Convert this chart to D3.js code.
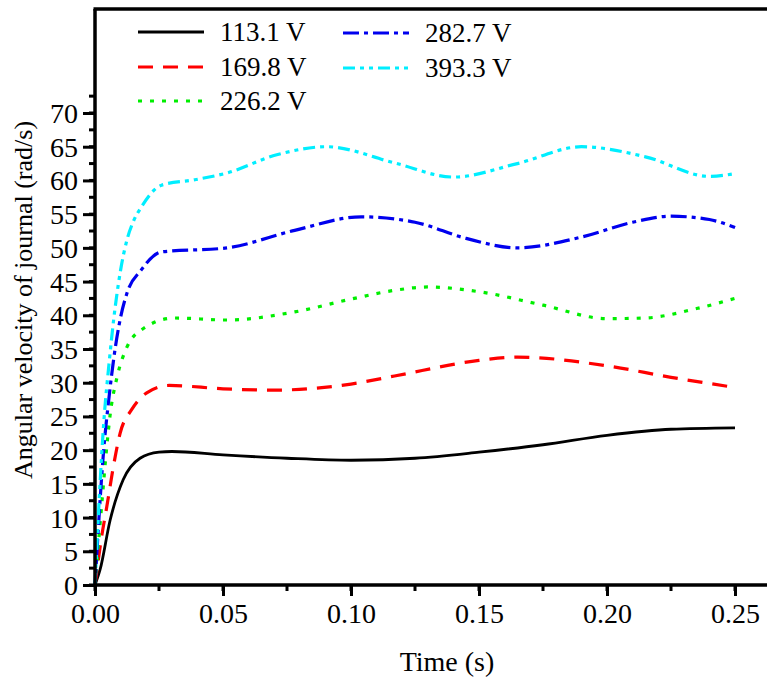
<!DOCTYPE html>
<html>
<head>
<meta charset="utf-8">
<script src="https://cdn.jsdelivr.net/npm/d3@7"></script>
<style>
  body { margin: 0; background: #fff; }
  svg text { font-family: "Liberation Serif", "Times New Roman", Times, serif; fill: #000; }
</style>
</head>
<body>
<div id="chart"></div>
<script>
var svgWidth = 767;
var svgHeight = 679;

// series names and colours
var seriesNames = ["113.1 V", "169.8 V", "226.2 V", "282.7 V", "393.3 V"];
var seriesColors = ["#000000", "#ff0000", "#00ee00", "#0000ee", "#00eeff"];
var seriesDash = [null, "15,10", "4,8", "16,5,4,5", "12,5,4,5,4,5"];

// time (s) / angular velocity (rad/s)
var t113 = [0, 0.002, 0.0059, 0.011, 0.0176, 0.025, 0.03, 0.05, 0.075, 0.1, 0.125, 0.15, 0.175, 0.2, 0.225, 0.25];
var v113 = [0, 2.3, 9.6, 15.6, 18.8, 19.7, 19.8, 19.3, 18.8, 18.5, 18.8, 19.7, 20.8, 22.2, 23.1, 23.3];

var t169 = [0, 0.0026, 0.0046, 0.0072, 0.0098, 0.0143, 0.0202, 0.029, 0.05, 0.07, 0.1, 0.117, 0.15, 0.165, 0.2, 0.225, 0.25];
var v169 = [0, 7.2, 11.6, 17.6, 22.5, 26.0, 28.5, 29.6, 29.1, 28.9, 29.8, 31.0, 33.3, 33.8, 32.5, 30.8, 29.3];

var t226 = [0, 0.003, 0.0043, 0.006, 0.0086, 0.0125, 0.018, 0.031, 0.0515, 0.078, 0.1, 0.117, 0.13, 0.15, 0.175, 0.2, 0.215, 0.235, 0.25];
var v226 = [0, 13.6, 19.3, 25.5, 30.8, 35.3, 37.8, 39.6, 39.3, 40.5, 42.4, 43.7, 44.2, 43.5, 41.5, 39.5, 39.6, 41.0, 42.5];

var t282 = [0, 0.0035, 0.0055, 0.0074, 0.01, 0.0125, 0.018, 0.026, 0.0515, 0.078, 0.104, 0.125, 0.145, 0.165, 0.19, 0.21, 0.225, 0.24, 0.25];
var v282 = [0, 20.5, 27.9, 33.8, 39.7, 43.3, 46.7, 49.4, 50.0, 52.6, 54.6, 53.8, 51.4, 50.0, 51.6, 53.8, 54.7, 54.2, 53.0];

var t393 = [0, 0.0035, 0.0055, 0.0074, 0.01, 0.0125, 0.0152, 0.018, 0.026, 0.039, 0.0515, 0.071, 0.0905, 0.117, 0.14, 0.165, 0.19, 0.215, 0.24, 0.25];
var v393 = [0, 24.5, 32.9, 39.7, 46.7, 51.2, 54.1, 56.0, 59.3, 60.1, 61.1, 63.8, 65.0, 62.6, 60.5, 62.5, 65.0, 63.5, 60.6, 61.0];

var seriesT = [t113, t169, t226, t282, t393];
var seriesV = [v113, v169, v226, v282, v393];

var xTicks = [0, 0.05, 0.10, 0.15, 0.20, 0.25];
var yTicks = [0, 5, 10, 15, 20, 25, 30, 35, 40, 45, 50, 55, 60, 65, 70];

var serif = "'Liberation Serif', 'Times New Roman', Times, serif";
var x0 = 95, y0 = 585, yTop = 9;

var xScale = d3.scaleLinear().domain([0, 0.25]).range([95, 735]);
var yScale = d3.scaleLinear().domain([0, 70]).range([585, 113]);

var svg = d3.select("#chart").append("svg")
    .attr("width", svgWidth)
    .attr("height", svgHeight);

// lines
var line = d3.line()
    .x(function(d) { return xScale(d[0]); })
    .y(function(d) { return yScale(d[1]); })
    .curve(d3.curveMonotoneX);

seriesNames.forEach(function(name, i) {
    var pts = seriesT[i].map(function(t, j) { return [t, seriesV[i][j]]; });
    svg.append("path")
        .datum(pts)
        .attr("fill", "none")
        .attr("stroke", seriesColors[i])
        .attr("stroke-width", i == 0 ? 2.8 : 3.2)
        .attr("stroke-dasharray", seriesDash[i])
        .attr("d", line);
});

// minor ticks
var xMinor = d3.range(0, 0.2626, 0.025);
var yMinor = d3.range(0, 72.6, 2.5);

svg.append("g").selectAll("line")
    .data(xMinor)
    .enter().append("line")
    .attr("x1", d => xScale(d)).attr("x2", d => xScale(d))
    .attr("y1", y0).attr("y2", y0 + 6)
    .attr("stroke", "#000").attr("stroke-width", 3);

svg.append("g").selectAll("line")
    .data(yMinor)
    .enter().append("line")
    .attr("x1", x0 - 6).attr("x2", x0)
    .attr("y1", d => yScale(d)).attr("y2", d => yScale(d))
    .attr("stroke", "#000").attr("stroke-width", 3);

// axes
var bottomAxis = d3.axisBottom(xScale)
    .tickValues(xTicks)
    .tickFormat(d3.format(".2f"))
    .tickSize(11)
    .tickSizeOuter(0)
    .tickPadding(7);

var leftAxis = d3.axisLeft(yScale)
    .tickValues(yTicks)
    .tickFormat(d3.format("d"))
    .tickSize(12)
    .tickSizeOuter(0)
    .tickPadding(5);

var gx = svg.append("g")
    .attr("transform", `translate(0, ${y0})`)
    .call(bottomAxis);
var gy = svg.append("g")
    .attr("transform", `translate(${x0}, 0)`)
    .call(leftAxis);

[gx, gy].forEach(function(g) {
    g.attr("font-family", null).attr("font-size", null);
    g.select(".domain").remove();
    g.selectAll(".tick line").attr("stroke", "#000").attr("stroke-width", 3);
    g.selectAll(".tick text")
        .style("font-family", serif)
        .style("font-size", "28px")
        .attr("fill", "#000");
});
gy.selectAll(".tick text").attr("dy", "0.34em");

// frame
svg.append("line")
    .attr("x1", x0).attr("x2", svgWidth + 5)
    .attr("y1", y0).attr("y2", y0)
    .attr("stroke", "#000").attr("stroke-width", 3.5);
svg.append("line")
    .attr("x1", x0).attr("x2", x0)
    .attr("y1", yTop).attr("y2", y0 + 1.5)
    .attr("stroke", "#000").attr("stroke-width", 3.5);
svg.append("line")
    .attr("x1", x0 - 1.5).attr("x2", svgWidth + 5)
    .attr("y1", yTop).attr("y2", yTop)
    .attr("stroke", "#000").attr("stroke-width", 3.5);

// axis titles
svg.append("text")
    .attr("x", 447)
    .attr("y", 671)
    .attr("text-anchor", "middle")
    .style("font-family", serif)
    .style("font-size", "28px")
    .text("Time (s)");

svg.append("text")
    .attr("transform", "translate(32, 300) rotate(-90)")
    .attr("text-anchor", "middle")
    .style("font-family", serif)
    .style("font-size", "26px")
    .text("Angular velocity of journal (rad/s)");

// legend
var legendPos = [
    { x: 138, y: 32, tx: 220 },
    { x: 138, y: 67, tx: 220 },
    { x: 138, y: 101, tx: 220 },
    { x: 343, y: 33, tx: 425 },
    { x: 343, y: 68, tx: 425 }
];

seriesNames.forEach(function(name, i) {
    var p = legendPos[i];
    svg.append("line")
        .attr("x1", p.x).attr("x2", p.x + 66)
        .attr("y1", p.y).attr("y2", p.y)
        .attr("stroke", seriesColors[i])
        .attr("stroke-width", i == 0 ? 2.8 : 3.2)
        .attr("stroke-dasharray", seriesDash[i]);
    svg.append("text")
        .attr("x", p.tx)
        .attr("y", p.y + 9)
        .style("font-family", serif)
        .style("font-size", "27px")
        .text(name);
});
</script>
</body>
</html>
